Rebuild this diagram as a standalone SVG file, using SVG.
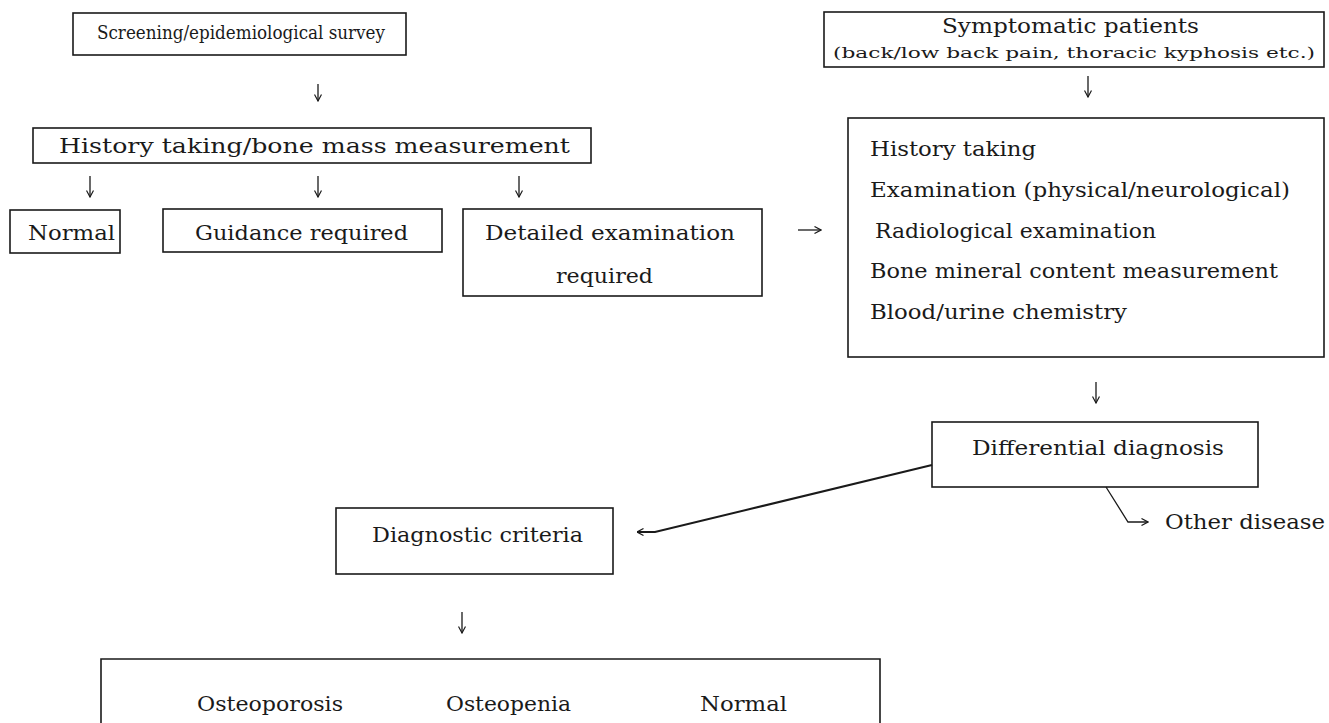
<svg xmlns="http://www.w3.org/2000/svg" width="1329" height="723" viewBox="0 0 1329 723">
<defs>
<style>
.box{fill:none;stroke:#1a1a1a;stroke-width:1.6}
.t{font-family:"DejaVu Serif","Liberation Serif",serif;font-size:20px;fill:#1a1a1a}
.s{font-family:"DejaVu Serif","Liberation Serif",serif;font-size:14px;fill:#1a1a1a}
.c{fill:none;stroke:#1a1a1a;stroke-width:1.3}
.d{fill:none;stroke:#1a1a1a;stroke-width:2}
</style>
<marker id="ah" viewBox="0 0 8 8" refX="7.5" refY="4" markerWidth="8" markerHeight="8" markerUnits="userSpaceOnUse" orient="auto">
<path d="M1,0.5 L7.5,4 L1,7.5" fill="none" stroke="#1a1a1a" stroke-width="1.2"/>
</marker>
</defs>
<rect width="1329" height="723" fill="#fff"/>
<g id="screening"><rect class="box" x="73" y="13" width="333" height="42"/><text class="t" x="97" y="39" style="font-size:18.5px" textLength="288" lengthAdjust="spacingAndGlyphs">Screening/epidemiological survey</text></g>
<g id="history"><rect class="box" x="33" y="128" width="558" height="35"/><text class="t" x="59" y="153" textLength="511" lengthAdjust="spacingAndGlyphs">History taking/bone mass measurement</text></g>
<g id="normal1"><rect class="box" x="10" y="210" width="110" height="43"/><text class="t" x="28" y="240" textLength="87" lengthAdjust="spacingAndGlyphs">Normal</text></g>
<g id="guidance"><rect class="box" x="163" y="209" width="279" height="43"/><text class="t" x="195" y="240" textLength="213" lengthAdjust="spacingAndGlyphs">Guidance required</text></g>
<g id="detailed"><rect class="box" x="463" y="209" width="299" height="87"/><text class="t" x="485" y="240" textLength="250" lengthAdjust="spacingAndGlyphs">Detailed examination</text><text class="t" x="556" y="283" textLength="97" lengthAdjust="spacingAndGlyphs">required</text></g>
<g id="symptomatic"><rect class="box" x="824" y="12" width="500" height="55"/><text class="t" x="942" y="33" textLength="257" lengthAdjust="spacingAndGlyphs">Symptomatic patients</text><text class="s" x="833" y="58" textLength="482" lengthAdjust="spacingAndGlyphs">(back/low back pain, thoracic kyphosis etc.)</text></g>
<g id="exams"><rect class="box" x="848" y="118" width="476" height="239"/>
<text class="t" x="870" y="156" textLength="166" lengthAdjust="spacingAndGlyphs">History taking</text>
<text class="t" x="870" y="197" textLength="420" lengthAdjust="spacingAndGlyphs">Examination (physical/neurological)</text>
<text class="t" x="875" y="238" textLength="281" lengthAdjust="spacingAndGlyphs">Radiological examination</text>
<text class="t" x="870" y="278" textLength="408" lengthAdjust="spacingAndGlyphs">Bone mineral content measurement</text>
<text class="t" x="870" y="319" textLength="257" lengthAdjust="spacingAndGlyphs">Blood/urine chemistry</text></g>
<g id="differential"><rect class="box" x="932" y="422" width="326" height="65"/><text class="t" x="972" y="455" textLength="252" lengthAdjust="spacingAndGlyphs">Differential diagnosis</text></g>
<g id="other"><text class="t" x="1165" y="529" textLength="160" lengthAdjust="spacingAndGlyphs">Other disease</text></g>
<g id="criteria"><rect class="box" x="336" y="508" width="277" height="66"/><text class="t" x="372" y="542" textLength="211" lengthAdjust="spacingAndGlyphs">Diagnostic criteria</text></g>
<g id="outcome"><path class="box" d="M101,730 V659 H880 V730"/>
<text class="t" x="197" y="711" textLength="146" lengthAdjust="spacingAndGlyphs">Osteoporosis</text>
<text class="t" x="446" y="711" textLength="125" lengthAdjust="spacingAndGlyphs">Osteopenia</text>
<text class="t" x="700" y="711" textLength="87" lengthAdjust="spacingAndGlyphs">Normal</text></g>
<g id="connectors">
<line class="c" x1="318" y1="84" x2="318" y2="101" marker-end="url(#ah)"/>
<line class="c" x1="90" y1="176" x2="90" y2="197" marker-end="url(#ah)"/>
<line class="c" x1="318" y1="176" x2="318" y2="197" marker-end="url(#ah)"/>
<line class="c" x1="519" y1="176" x2="519" y2="197" marker-end="url(#ah)"/>
<line class="c" x1="798" y1="230" x2="821" y2="230" marker-end="url(#ah)"/>
<line class="c" x1="1088" y1="76" x2="1088" y2="97" marker-end="url(#ah)"/>
<line class="c" x1="1096" y1="382" x2="1096" y2="403" marker-end="url(#ah)"/>
<path class="d" d="M932,465 L655,532 L637,532" marker-end="url(#ah)"/>
<path class="c" d="M1106,487 L1128,522 L1148,522" marker-end="url(#ah)"/>
<line class="c" x1="462" y1="612" x2="462" y2="633" marker-end="url(#ah)"/>
</g>
</svg>
